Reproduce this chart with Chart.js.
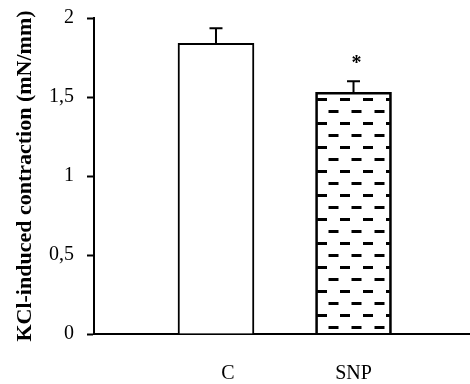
<!DOCTYPE html>
<html>
<head>
<meta charset="utf-8">
<script src="https://cdn.jsdelivr.net/npm/chart.js@4"></script>
<style>
  html, body { margin: 0; padding: 0; background: #fff; }
  #wrap { width: 470px; height: 384px; }
</style>
</head>
<body>
<div id="wrap"><canvas id="chart" width="470" height="384"></canvas></div>
<script>
// data
const categories = ["C", "SNP"];
const means = [1.84, 1.53];
const sem = [0.095, 0.07];
const significant = [false, true];
const yTicks = [0, 0.5, 1, 1.5, 2];

const serif = "'Liberation Serif', 'Times New Roman', serif";

// dashed fill for the SNP bar
function makeDashPattern() {
    const tile = document.createElement("canvas");
    tile.width = 23;
    tile.height = 24;
    const t = tile.getContext("2d");
    t.fillStyle = "#000";
    t.fillRect(0, 0, 10, 3);
    t.fillRect(11.5, 12, 10, 3);
    const ctx = document.getElementById("chart").getContext("2d");
    const pat = ctx.createPattern(tile, "repeat");
    pat.setTransform(new DOMMatrix().translate(340, 98));
    return pat;
}

// error bars + asterisk
const errorBars = {
    id: "errorBars",
    afterDatasetsDraw(chart) {
        const ctx = chart.ctx;
        const x = chart.scales.x;
        const y = chart.scales.y;
        ctx.save();
        ctx.strokeStyle = "#000";
        ctx.lineWidth = 2;
        means.forEach((m, i) => {
            const px = x.getPixelForValue(i + 1);
            const top = y.getPixelForValue(m + sem[i]);
            const base = y.getPixelForValue(m);
            ctx.beginPath();
            ctx.moveTo(px, base);
            ctx.lineTo(px, top);
            ctx.moveTo(px - 6.5, top);
            ctx.lineTo(px + 6.5, top);
            ctx.stroke();
            if (significant[i]) {
                ctx.fillStyle = "#000";
                ctx.font = "bold 20px " + serif;
                ctx.textAlign = "center";
                ctx.textBaseline = "middle";
                ctx.fillText("*", px + 3, top - 17);
            }
        });
        ctx.restore();
    }
};

const ctx = document.getElementById("chart").getContext("2d");
new Chart(ctx, {
    type: "bar",
    data: {
        datasets: [{
            data: categories.map((c, i) => ({ x: i + 1, y: means[i] })),
            backgroundColor: ["#ffffff", makeDashPattern()],
            borderColor: "#000",
            borderWidth: 2,
            borderSkipped: "bottom",
            barThickness: 76
        }]
    },
    options: {
        responsive: false,
        animation: false,
        layout: { padding: { top: 18, right: 0, left: 0, bottom: 0 } },
        plugins: {
            legend: { display: false },
            tooltip: { enabled: false }
        },
        scales: {
            x: {
                type: "linear",
                offset: false,
                min: 0.113,
                max: 2.847,
                afterBuildTicks: (scale) => {
                    scale.ticks = [{ value: 1.087 }, { value: 2.0 }];
                },
                afterFit: (scale) => { scale.height = 50; },
                ticks: {
                    color: "#000",
                    font: { family: serif, size: 20 },
                    padding: 28,
                    maxRotation: 0,
                    autoSkip: false,
                    callback: (v, i) => categories[i]
                },
                grid: { display: false, drawTicks: false, offset: false },
                border: { display: true, color: "#000", width: 2 }
            },
            y: {
                min: 0,
                max: 2,
                afterBuildTicks: (scale) => {
                    scale.ticks = yTicks.map(v => ({ value: v }));
                },
                afterFit: (scale) => {
                    scale.width = 94;
                    scale.paddingTop = 0;
                    scale.paddingBottom = 0;
                },
                ticks: {
                    color: "#000",
                    font: { family: serif, size: 20 },
                    padding: 13,
                    callback: (v) => String(v).replace(".", ",")
                },
                grid: {
                    drawOnChartArea: false,
                    drawTicks: true,
                    tickLength: 7,
                    tickWidth: 2,
                    tickColor: "#000"
                },
                border: { display: true, color: "#000", width: 2 },
                title: {
                    display: true,
                    text: "KCl-induced contraction (mN/mm)",
                    color: "#000",
                    font: { family: serif, size: 22, weight: "bold" },
                    padding: { top: 12, bottom: 0 }
                }
            }
        }
    },
    plugins: [errorBars]
});
</script>
</body>
</html>
